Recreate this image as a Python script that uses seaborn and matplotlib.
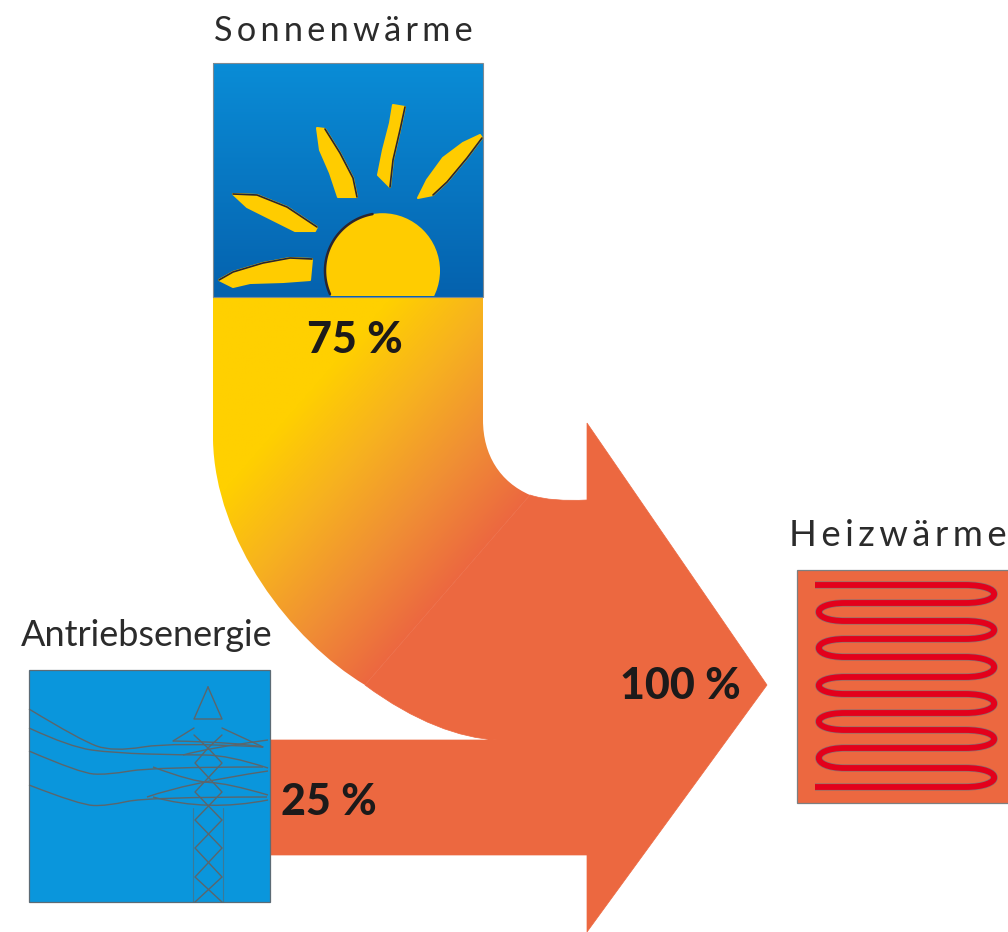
import numpy as np
import seaborn as sns
import matplotlib.pyplot as plt
import matplotlib.patheffects as pe
from matplotlib.path import Path
from matplotlib.patches import PathPatch, Rectangle, Circle, Polygon

# ==========================================
# 1. DATA
# ==========================================
source_names = ["Sonnenwärme", "Antriebsenergie"]
target_name = "Heizwärme"
source_shares = [75, 25]
target_share = 100

ORANGE = "#EC6840"
HAIR = "\u200a" * 2

sns.set_theme(style="white")
plt.rcParams['font.family'] = ['Lato', 'DejaVu Sans']

fig = plt.figure(figsize=(10.08, 9.32), dpi=100)
ax = fig.add_axes([0, 0, 1, 1])
ax.set_xlim(0, 1008)
ax.set_ylim(932, 0)
ax.axis("off")

M, L, C, Q = Path.MOVETO, Path.LINETO, Path.CURVE4, Path.CURVE3


def spaced(s):
    return HAIR.join(s)


def gradient(extent, cmap, values, clip=None, z=1):
    im = ax.imshow(values, extent=extent, cmap=cmap, vmin=0, vmax=1,
                   aspect="auto", interpolation="bilinear", zorder=z)
    if clip is not None:
        im.set_clip_path(clip)
    return im


def smooth_path(pts):
    # quadratic curve through the midpoints, ends stay on the first/last point
    verts, codes = [pts[0]], [M]
    for i in range(1, len(pts) - 1):
        a, b = np.array(pts[i]), np.array(pts[i + 1])
        mid = b if i == len(pts) - 2 else (a + b) / 2
        verts += [tuple(a), tuple(mid)]
        codes += [Q, Q]
    return Path(verts, codes)


# ==========================================
# 2. SUN BOX
# ==========================================
blue_cmap = sns.blend_palette(["#0A8CD6", "#0562AE"], as_cmap=True)
gradient((213, 483, 297, 63), blue_cmap, np.linspace(0, 1, 64)[:, None], z=2)
ax.add_patch(Rectangle((213, 63), 270, 234, fc="none", ec="#7f8a92", lw=0.8, zorder=3))

ink = "#2a2530"
yellow = "#FFCC00"
sun_clip = Rectangle((213, 63), 270, 233, transform=ax.transData)
sun = Circle((382.5, 270.7), 57.5, fc=yellow, ec="none", zorder=3)
ax.add_patch(sun)
sun.set_clip_path(sun_clip)
arc = np.radians(np.linspace(100, 204, 40))
ax.plot(382.5 + 57.5 * np.cos(arc), 270.7 - 57.5 * np.sin(arc), color=ink, lw=1.8, zorder=4)

rays = [
    [(219, 280), (233, 272), (263, 263), (290, 258), (312, 259), (310, 280), (283, 282), (250, 283), (233, 287)],
    [(233, 194), (257, 195), (287, 207), (317, 227), (315, 231), (295, 231), (273, 220), (247, 207)],
    [(317, 128), (325, 129), (340, 153), (353, 178), (357, 197), (338, 197), (330, 173), (320, 150)],
    [(393, 105), (405, 107), (400, 130), (393, 160), (390, 187), (378, 175), (383, 150), (390, 123)],
    [(480, 135), (482, 138), (467, 158), (447, 182), (433, 195), (418, 198), (427, 180), (443, 158), (463, 143)],
]
ray_edges = [[0, 1, 2, 3, 4], [0, 1, 2, 3], [1, 2, 3, 4], [1, 2, 3, 4], [1, 2, 3, 4]]
for ray, edge in zip(rays, ray_edges):
    ax.add_patch(Polygon(ray, closed=True, fc=yellow, ec=yellow, lw=1.5, joinstyle="round", zorder=3))
    pts = np.array(ray)[edge]
    ax.plot(pts[:, 0], pts[:, 1], color=ink, lw=1.2, zorder=4, solid_joinstyle="round")

# ==========================================
# 3. FLOWS
# ==========================================
band = Path(
    [(213, 297), (213, 440), (215, 540), (290, 640), (365, 685),
     (530, 495), (500, 482), (483, 455), (483, 420), (483, 297), (213, 297)],
    [M, L, C, C, C, L, C, C, C, L, L],
)
band_patch = PathPatch(band, fc="none", ec="none", transform=ax.transData)
ax.add_patch(band_patch)

# colour runs from the seam back to the top of the band
xx, yy = np.meshgrid(np.linspace(205, 540, 300), np.linspace(290, 700, 360))
nx, ny = 190 / 251.6, 165 / 251.6
dist = -((xx - 530) * nx + (yy - 495) * ny)
flow_cmap = sns.blend_palette([ORANGE, "#F08F34", "#F7B21F", "#FFD000"], as_cmap=True)
gradient((205, 540, 700, 290), flow_cmap, np.clip(dist / 235, 0, 1), clip=band_patch, z=1)

arrow = Path(
    [(270, 740), (497, 740), (460, 738), (415, 722), (365, 685),
     (530, 495), (545, 500), (565, 501), (587, 500),
     (587, 423), (767, 685), (587, 932), (587, 855), (270, 855), (270, 740)],
    [M, L, C, C, C, L, C, C, C, L, L, L, L, L, L],
)
ax.add_patch(PathPatch(arrow, fc=ORANGE, ec=ORANGE, lw=0.5, zorder=2))

# ==========================================
# 4. PYLON BOX
# ==========================================
ax.add_patch(Rectangle((29, 670), 241, 232, fc="#0A96DC", ec="#5c6b75", lw=0.9, zorder=3))
LINE = "#5b666c"
pylon = [
    [(208, 687), (194, 719), (222, 719), (208, 687)],
    [(194, 728), (173, 741)],
    [(222, 728), (263, 747)],
    [(194, 735), (208, 748), (222, 735)],
    [(208, 748), (222, 763), (195, 792), (222, 820), (195, 848), (222, 877), (195, 902)],
    [(208, 748), (195, 763), (222, 792), (195, 820), (222, 848), (195, 877), (222, 902)],
]
pylon_legs = [
    [(193, 808), (193, 902)],
    [(223, 808), (223, 902)],
]
wires = [
    [(29, 709), (80, 740), (113, 752), (173, 742), (263, 747)],
    [(29, 728), (70, 747), (113, 753), (183, 755), (228, 755), (268, 768)],
    [(29, 751), (80, 773), (107, 775), (153, 767), (263, 767)],
    [(29, 785), (80, 805), (107, 806), (147, 797), (267, 797)],
    [(153, 767), (193, 782), (227, 783), (268, 795)],
    [(147, 797), (187, 783), (268, 771)],
    [(153, 797), (207, 812), (268, 800)],
    [(173, 741), (233, 742), (263, 747)],
    [(183, 755), (208, 748), (268, 740)],
]
for seg in pylon:
    pts = np.array(seg)
    ax.plot(pts[:, 0], pts[:, 1], color=LINE, lw=1.0, zorder=4, solid_joinstyle="round")
for seg in pylon_legs:
    pts = np.array(seg)
    ax.plot(pts[:, 0], pts[:, 1], color=LINE, lw=0.8, alpha=0.6, zorder=4)
for seg in wires:
    ax.add_patch(PathPatch(smooth_path(seg), fc="none", ec=LINE, lw=1.0, zorder=4))

# ==========================================
# 5. HEATER BOX
# ==========================================
ax.add_patch(Rectangle((797, 570), 212, 233, fc=ORANGE, ec="#7d7f80", lw=0.9, zorder=3))
rows = [585, 603, 621, 639, 657, 677, 694, 713, 730, 748, 768, 787]
verts, codes = [(815, rows[0])], [M]
for i in range(len(rows) - 1):
    y0, y1 = rows[i], rows[i + 1]
    if i % 2 == 0:
        x_s, x_e = 965, 1004
    else:
        x_s, x_e = 845, 810
    verts += [(x_s, y0), (x_e, y0), (x_e, y1), (x_s, y1)]
    codes += [L, C, C, C]
verts.append((815, rows[-1]))
codes.append(L)
ax.add_patch(PathPatch(Path(verts, codes), fc="none", ec="#E3001B", lw=4.2, zorder=4,
                       capstyle="butt", joinstyle="round",
                       path_effects=[pe.withStroke(linewidth=5.2, foreground="#8a6f70")]))

# ==========================================
# 6. TEXT
# ==========================================
dark = "#1c1a1a"
ax.text(343, 31, spaced(source_names[0]), fontsize=24.7, color="#2b2b2b", ha="center", va="center", zorder=6)
ax.text(147, 636, source_names[1], fontsize=26, color="#2b2b2b", ha="center", va="center", zorder=6)
ax.text(898, 535, spaced(target_name), fontsize=26.3, color="#2b2b2b", ha="center", va="center", zorder=6)
ax.text(355, 340, f"{source_shares[0]} %", fontsize=31, fontweight="black", color=dark, ha="center", va="center", zorder=6)
ax.text(329, 802, f"{source_shares[1]} %", fontsize=31, fontweight="black", color=dark, ha="center", va="center", zorder=6)
ax.text(680, 686, f"{target_share} %", fontsize=31, fontweight="black", color=dark, ha="center", va="center", zorder=6)

plt.savefig("out.png", dpi=100)
